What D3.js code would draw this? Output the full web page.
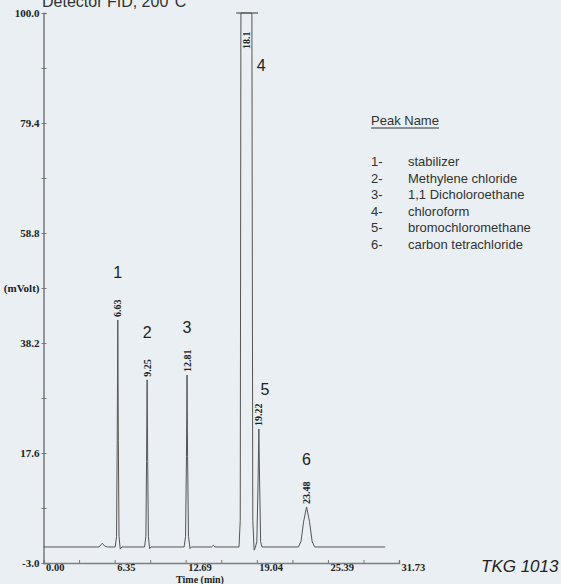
<!DOCTYPE html>
<html>
<head>
<meta charset="utf-8">
<script src="https://cdn.jsdelivr.net/npm/d3@7"></script>
<style>
  html, body { margin: 0; padding: 0; background: #e9eff2; }
  svg { display: block; }
</style>
</head>
<body>
<div id="chart"></div>
<script>
// retention times (min), heights (mV) and compound numbers of the peaks
const peakTimes = [6.63, 9.25, 12.81, 18.1, 19.22, 23.48];
const peakHeights = [42.5, 31.3, 32.2, 100.0, 22.1, 7.5];
const peakNumbers = ['1', '2', '3', '4', '5', '6'];
const peakNames = ['stabilizer', 'Methylene chloride', '1,1 Dicholoroethane',
    'chloroform', 'bromochloromethane', 'carbon tetrachloride'];

// detector trace: [time (min), signal (mV)]
const trace = [
    [0.00, 0.0], [4.95, 0.0], [5.25, 0.7], [5.45, 0.2], [5.70, 0.0],
    [6.40, 0.0], [6.52, 2.0], [6.58, 20], [6.63, 42.5], [6.68, 20], [6.74, 2.0], [6.85, -0.4], [7.00, 0.0],
    [9.02, 0.0], [9.14, 2.0], [9.20, 16], [9.25, 31.3], [9.30, 16], [9.36, 2.0], [9.47, -0.3], [9.60, 0.0],
    [12.55, 0.0], [12.68, 2.0], [12.76, 17], [12.81, 32.2], [12.86, 17], [12.94, 2.0], [13.08, -0.3], [13.20, 0.0],
    [15.00, 0.0], [15.15, 0.3], [15.30, 0.0],
    [17.45, 0.0], [17.56, 5], [17.62, 100], [18.60, 100], [18.68, 5], [18.80, -0.6], [18.92, 0.0],
    [19.04, 1.0], [19.15, 12], [19.22, 22.1], [19.29, 12], [19.38, 1.0], [19.50, 0.0],
    [22.75, 0.0], [22.98, 1.0], [23.22, 4.8], [23.48, 7.5], [23.74, 4.8], [23.98, 1.0], [24.20, 0.0],
    [30.50, 0.0]
];
// flat cap drawn where the solvent peak goes off scale
const clipCap = [17.2, 19.15];

const xMajor = [0, 6.35, 12.69, 19.04, 25.39, 31.73];
const yMajor = [100.0, 79.4, 58.8, 38.2, 17.6, -3.0];
const yUnitAt = 48.5;

const width = 561, height = 584;
const svg = d3.select('#chart').append('svg')
    .attr('width', width).attr('height', height);

const x = d3.scaleLinear().domain([0, 31.73]).range([43.5, 399]);
const y = d3.scaleLinear().domain([-3, 100]).range([563, 13]);

const serif = 'Liberation Serif, Times New Roman, serif';
const sans = 'Liberation Sans, Arial, sans-serif';

// title, cut by the top edge like the scan
svg.append('text')
    .attr('x', 42).attr('y', 7)
    .attr('font-family', sans)
    .attr('font-size', 16).attr('fill', '#333')
    .text('Detector FID, 200°C');

// y axis
const mid = (a) => a.slice(1).map((v, i) => (v + a[i]) / 2);
const yTicks = yMajor.concat(mid(yMajor).filter(v => Math.abs(v - yUnitAt) > 1)).concat([yUnitAt]);
const yAxis = svg.append('g')
    .attr('transform', `translate(${x(0)},0)`)
    .call(d3.axisLeft(y).tickValues(yTicks).tickSize(-3).tickPadding(4)
        .tickFormat(d => d === yUnitAt ? '(mVolt)' : (yMajor.includes(d) ? d.toFixed(1) : '')));
yAxis.select('.domain').attr('stroke', '#808080').attr('stroke-width', 1.6);
yAxis.selectAll('.tick line').attr('stroke', '#777').attr('x1', -2);
yAxis.selectAll('.tick text')
    .attr('font-family', serif)
    .attr('font-weight', 'bold').attr('font-size', 11).attr('fill', '#222');

// x axis
const xTicks = xMajor.concat(mid(xMajor));
const xAxis = svg.append('g')
    .attr('transform', `translate(0,${y(-3)})`)
    .call(d3.axisBottom(x).tickValues(xTicks).tickSize(-3).tickPadding(1)
        .tickFormat(d => xMajor.includes(d) ? d.toFixed(2) : ''));
xAxis.select('.domain').attr('stroke', '#808080').attr('stroke-width', 1.4);
xAxis.selectAll('.tick line').attr('stroke', '#777');
xAxis.selectAll('.tick text')
    .attr('text-anchor', 'start').attr('dx', 2)
    .attr('font-family', serif)
    .attr('font-weight', 'bold').attr('font-size', 10.5).attr('fill', '#222');

svg.append('text')
    .attr('x', 200).attr('y', 583).attr('text-anchor', 'middle')
    .attr('font-family', serif)
    .attr('font-weight', 'bold').attr('font-size', 10).attr('fill', '#222')
    .text('Time (min)');

// trace
const line = d3.line().x(d => x(d[0])).y(d => y(d[1]));
svg.append('path')
    .datum(trace)
    .attr('d', line)
    .attr('fill', 'none').attr('stroke', '#555').attr('stroke-width', 1);

svg.append('line')
    .attr('x1', x(clipCap[0])).attr('x2', x(clipCap[1]))
    .attr('y1', y(100)).attr('y2', y(100))
    .attr('stroke', '#555').attr('stroke-width', 1.2);

// retention time labels above each peak
const clipped = (h) => h >= 100;
svg.selectAll('.rt')
    .data(peakTimes)
    .enter().append('text')
    .attr('class', 'rt')
    .attr('transform', (d, i) => {
        const py = clipped(peakHeights[i]) ? y(100) + 36 : y(peakHeights[i]) - 3;
        return `translate(${x(d)},${py}) rotate(-90)`;
    })
    .attr('dy', '0.35em')
    .attr('font-family', serif)
    .attr('font-weight', 'bold').attr('font-size', 10).attr('fill', '#222')
    .text(d => String(d));

// compound numbers
const nudge = { '4': [15, 0], '5': [6, 8] };
svg.selectAll('.num')
    .data(peakNumbers)
    .enter().append('text')
    .attr('class', 'num')
    .attr('x', (d, i) => x(peakTimes[i]) + (nudge[d] ? nudge[d][0] : 0))
    .attr('y', (d, i) => (clipped(peakHeights[i]) ? y(100) + 58 : y(peakHeights[i]) - 42) + (nudge[d] ? nudge[d][1] : 0))
    .attr('text-anchor', 'middle')
    .attr('font-family', sans)
    .attr('font-size', 16).attr('fill', '#222')
    .text(d => d);

// legend
const legend = svg.append('g')
    .attr('font-family', sans)
    .attr('font-size', 13).attr('fill', '#333');
legend.append('text').attr('x', 371).attr('y', 125).text('Peak Name');
legend.append('line')
    .attr('x1', 371).attr('x2', 439).attr('y1', 128).attr('y2', 128)
    .attr('stroke', '#333').attr('stroke-width', 1);
legend.selectAll('.row')
    .data(peakNames)
    .enter().append('g')
    .attr('transform', (d, i) => `translate(371,${166 + i * 16.6})`)
    .each(function (d, i) {
        const g = d3.select(this);
        g.append('text').text(peakNumbers[i] + '-');
        g.append('text').attr('x', 37).text(d);
    });

svg.append('text')
    .attr('x', 481).attr('y', 572)
    .attr('font-family', sans)
    .attr('font-style', 'italic').attr('font-size', 17).attr('fill', '#222')
    .text('TKG 1013');
</script>
</body>
</html>
